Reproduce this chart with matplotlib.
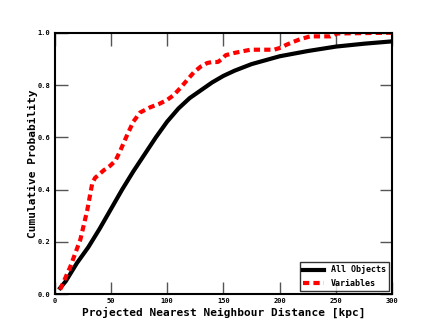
import numpy as np
import matplotlib
matplotlib.use('Agg')
import matplotlib.pyplot as plt

# data
dist_all = [5, 10, 20, 30, 40, 50, 60, 70, 80, 90, 100, 110, 120, 130, 140, 150,
            160, 175, 200, 225, 250, 275, 300]
cdf_all = [0.024, 0.05, 0.12, 0.18, 0.25, 0.325, 0.40, 0.47, 0.535, 0.60, 0.66,
           0.71, 0.75, 0.78, 0.81, 0.835, 0.855, 0.88, 0.91, 0.93, 0.947, 0.958, 0.967]

dist_var = [5, 14, 23, 29, 33.5, 36, 40, 44, 49, 54, 58, 64.5, 70, 76, 85, 93, 100,
            106, 112, 118, 124, 130, 135.5, 140, 145, 149, 152, 159, 174, 195, 201,
            206, 212, 218, 227, 245, 251, 300]
cdf_var = [0.018, 0.105, 0.21, 0.32, 0.424, 0.445, 0.46, 0.475, 0.49, 0.51, 0.545,
           0.609, 0.66, 0.695, 0.715, 0.728, 0.743, 0.762, 0.79, 0.82, 0.85, 0.871,
           0.884, 0.888, 0.888, 0.90, 0.914, 0.922, 0.935, 0.935, 0.943, 0.954,
           0.965, 0.975, 0.986, 0.986, 0.997, 1.0]

xticks = [0, 50, 100, 150, 200, 250, 300]
yticks = [0.0, 0.2, 0.4, 0.6, 0.8, 1.0]

plt.rcParams['font.family'] = 'DejaVu Sans Mono'
plt.rcParams['font.weight'] = 'bold'

fig = plt.figure(figsize=(4.36, 3.27), dpi=100)
ax = fig.add_axes([0.125, 0.1, 0.775, 0.8])

ax.plot(dist_all, cdf_all, color='black', lw=3, label='All Objects')
ax.plot(dist_var, cdf_var, color='red', lw=3, ls=(0, (1.5, 1)), label='Variables')

ax.set_xlim(0, 300)
ax.set_ylim(0, 1)
ax.set_xticks(xticks)
ax.set_yticks(yticks)
ax.set_xticklabels([str(t) for t in xticks], fontsize=5, fontweight='bold')
ax.set_yticklabels(['%.1f' % t for t in yticks], fontsize=5, fontweight='bold')
ax.tick_params(direction='in', length=9, width=1, color='#555555',
               top=True, right=True, pad=3)
for s in ax.spines.values():
    s.set_linewidth(1.5)

ax.set_xlabel('Projected Nearest Neighbour Distance [kpc]', fontsize=8, fontweight='bold', labelpad=2)
ax.set_ylabel('Cumulative Probability', fontsize=8, fontweight='bold', labelpad=0)

leg = ax.legend(loc='lower right', prop={'size': 6, 'weight': 'bold'},
                fancybox=False, handlelength=2.5, borderaxespad=0.4)
leg.get_frame().set_edgecolor('black')

fig.savefig('out.png', dpi=100)
